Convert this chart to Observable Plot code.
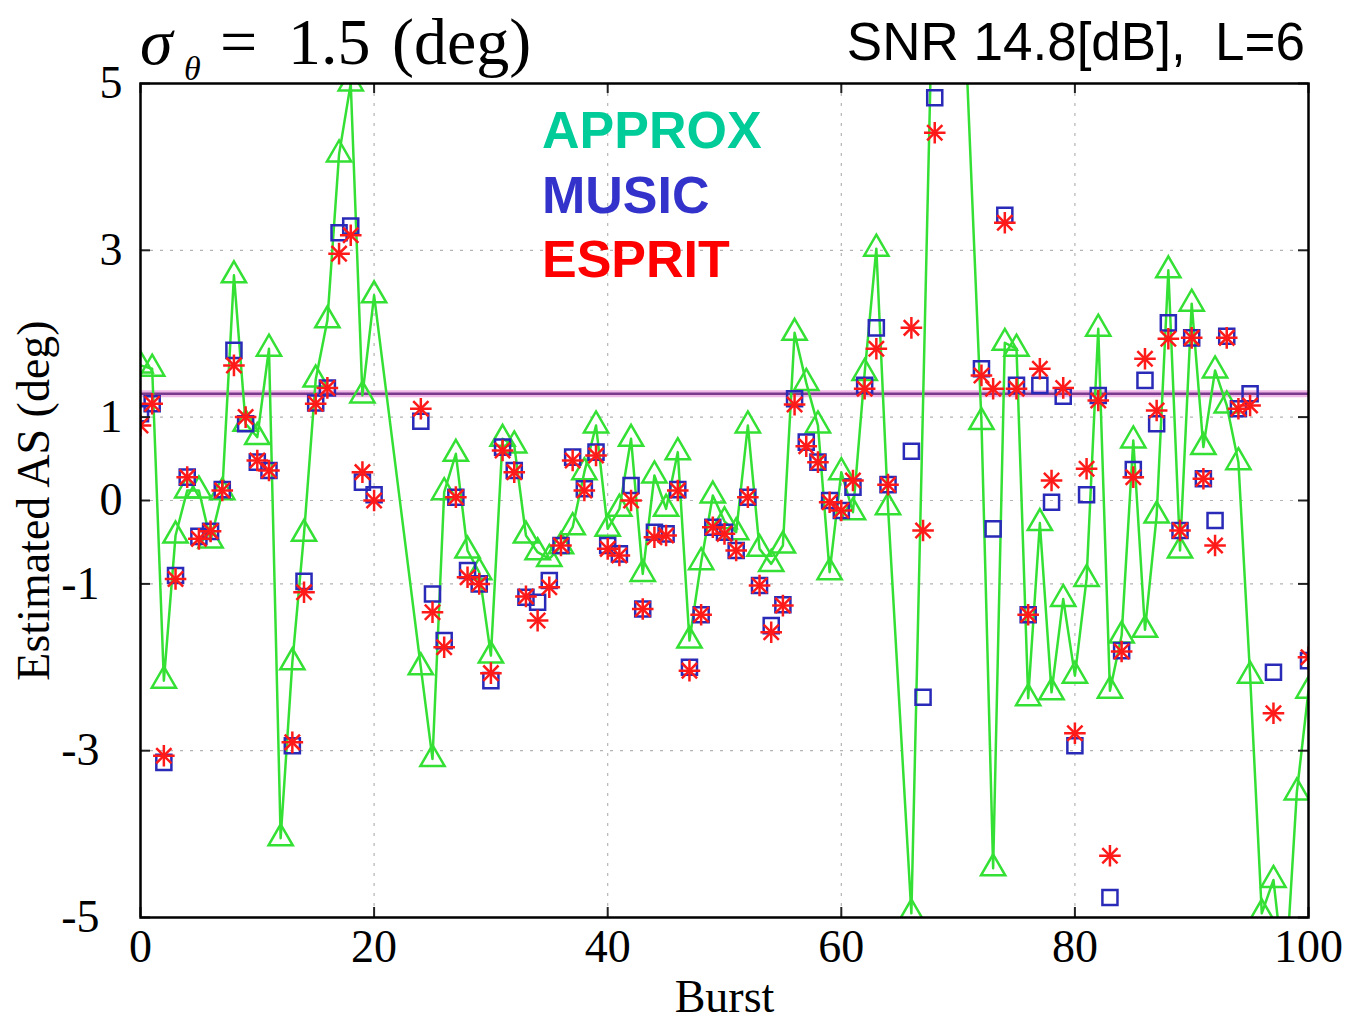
<!DOCTYPE html>
<html><head><meta charset="utf-8">
<script src="https://cdn.jsdelivr.net/npm/d3@7"></script>
<script src="https://cdn.jsdelivr.net/npm/@observablehq/plot@0.6"></script>
<style>
body{margin:0;background:#fff;}
#wrap{position:relative;width:1355px;height:1020px;overflow:hidden;}
#overlay{position:absolute;left:0;top:0;pointer-events:none;}
</style></head><body>
<div id="wrap"><div id="chart"></div></div>
<script>
// ---- data ----
const burst = [0,1,2,3,4,5,6,7,8,9,10,11,12,13,14,15,16,17,18,19,20,21,22,23,24,25,26,27,28,29,30,31,32,33,34,35,36,37,38,39,40,41,42,43,44,45,46,47,48,49,50,51,52,53,54,55,56,57,58,59,60,61,62,63,64,65,66,67,68,69,70,71,72,73,74,75,76,77,78,79,80,81,82,83,84,85,86,87,88,89,90,91,92,93,94,95,96,97,98,99,100];
const approx = [1.62,1.58,-2.16,-0.42,0.12,0.12,-0.48,0.1,2.7,0.92,0.76,1.82,-4.05,-1.94,-0.4,1.45,2.16,4.15,5.0,1.26,2.46,null,null,null,-2.0,-3.1,0.1,0.56,-0.6,-0.86,-1.86,0.74,0.66,-0.42,-0.62,-0.7,-0.55,-0.32,0.34,0.9,-0.34,-0.1,0.74,-0.88,0.3,-0.1,0.58,-1.68,-0.74,0.06,-0.25,-0.38,0.9,-0.58,-0.76,-0.54,2.01,1.41,0.9,-0.86,0.34,-0.14,1.53,3.02,-0.08,null,-4.95,null,7.3,8.5,7.7,null,0.94,-4.41,1.89,1.82,-2.37,-0.27,-2.3,-1.18,-2.1,-0.94,2.06,-2.28,-1.62,0.72,-1.55,-0.18,2.76,-0.6,2.36,0.64,1.56,1.14,0.46,-2.1,-4.95,-4.55,-5.8,-3.5,-2.28];
const music = [1.04,1.16,-3.14,-0.9,0.28,-0.43,-0.37,0.13,1.8,0.92,0.46,0.36,null,-2.94,-0.97,1.17,1.35,3.21,3.29,0.22,0.07,null,null,null,0.95,-1.12,-1.68,0.04,-0.84,-1.0,-2.16,0.64,0.36,-1.16,-1.22,-0.96,-0.54,0.52,0.14,0.58,-0.54,-0.64,0.18,-1.3,-0.38,-0.4,0.13,-2.0,-1.37,-0.32,-0.38,-0.6,0.04,-1.02,-1.5,-1.25,1.22,0.7,0.46,0.0,-0.12,0.16,1.38,2.07,0.19,null,0.59,-2.36,4.83,null,null,null,1.58,-0.34,3.42,1.38,-1.37,1.38,-0.02,1.25,-2.94,0.07,1.26,-4.76,-1.8,0.37,1.44,0.92,2.13,-0.36,1.95,0.26,-0.24,1.97,1.1,1.28,null,-2.06,null,null,-1.92];
const esprit = [0.9,1.16,-3.06,-0.94,0.28,-0.46,-0.37,0.12,1.62,1.0,0.48,0.36,null,-2.9,-1.1,1.16,1.35,2.96,3.18,0.34,0.0,null,null,null,1.1,-1.34,-1.76,0.04,-0.92,-1.0,-2.07,0.6,0.34,-1.15,-1.44,-1.04,-0.54,0.48,0.12,0.54,-0.58,-0.66,0.0,-1.3,-0.44,-0.42,0.12,-2.04,-1.37,-0.32,-0.4,-0.6,0.04,-1.02,-1.58,-1.26,1.15,0.65,0.46,-0.02,-0.12,0.24,1.34,1.82,0.19,null,2.07,-0.36,4.41,null,null,null,1.5,1.34,3.33,1.34,-1.37,1.58,0.24,1.35,-2.79,0.38,1.2,-4.26,-1.81,0.28,1.7,1.08,1.94,-0.36,1.95,0.26,-0.54,1.95,1.1,1.14,null,-2.55,null,null,-1.88];
const refLevel = [1.28];
const yTicks = [5,3,1,0,-1,-3,-5];
const yGrid = [3,1,0,-1,-3];
const xTicks = [0,20,40,60,80,100];
const xGrid = [20,40,60,80];
const legendLabels = ["APPROX","MUSIC","ESPRIT"];
const legendColors = ["#00cc99","#3333cc","#ff0000"];
const titleSNR = "SNR 14.8[dB],  L=6";

// ---- tables ----
const rows = burst.map((b,i)=>({burst:b, approx:approx[i], music:music[i], esprit:esprit[i]}));
const approxRows = rows.filter(d=>d.approx!=null);
const musicRows = rows.filter(d=>d.music!=null);
const espritRows = rows.filter(d=>d.esprit!=null);

const W=1355, H=1020, ML=140, MR=47, MT=83, MB=103;
const fw = W-ML-MR, fh = H-MT-MB;
const green="#35e035", blue="#2a2ab8", red="#ff1a1a";

const chart = Plot.plot({
  width:W, height:H, marginLeft:ML, marginRight:MR, marginTop:MT, marginBottom:MB,
  style:{fontFamily:"'Liberation Serif','Times New Roman',serif", background:"#fff", color:"#000"},
  x:{domain:[0,100]},
  y:{domain:[-5,5]},
  marks:[
    Plot.ruleY(yGrid,{stroke:"#b4b4b4", strokeDasharray:"3,7", strokeWidth:1.2}),
    Plot.ruleX(xGrid,{stroke:"#b4b4b4", strokeDasharray:"3,7", strokeWidth:1.2}),
    Plot.ruleY(refLevel,{stroke:"#f0b8e6", strokeWidth:7}),
    Plot.ruleY(refLevel,{stroke:"#7a3a8e", strokeWidth:2.5}),
    Plot.line(approxRows,{x:"burst", y:"approx", stroke:green, strokeWidth:2.5, clip:true}),
    Plot.dot(approxRows,{x:"burst", y:"approx", symbol:"triangle", r:9, stroke:green, strokeWidth:2.5, fill:"none", clip:true}),
    Plot.dot(musicRows,{x:"burst", y:"music", symbol:"square", r:8.5, stroke:blue, strokeWidth:2.5, fill:"none", clip:true}),
    Plot.dot(espritRows,{x:"burst", y:"esprit", symbol:"plus", r:7, stroke:red, strokeWidth:2.5, clip:true}),
    Plot.dot(espritRows,{x:"burst", y:"esprit", symbol:"times", r:7, stroke:red, strokeWidth:2.5, clip:true}),
    // inward ticks
    Plot.ruleY(yTicks,{insetRight:fw-10, stroke:"#222", strokeWidth:2}),
    Plot.ruleY(yTicks,{insetLeft:fw-10, stroke:"#222", strokeWidth:2}),
    Plot.ruleX(xTicks,{insetBottom:fh-10, stroke:"#222", strokeWidth:2}),
    Plot.ruleX(xTicks,{insetTop:fh-10, stroke:"#222", strokeWidth:2}),
    Plot.frame({stroke:"#000", strokeWidth:2.5}),
    Plot.axisY(yTicks,{tickSize:0, tickPadding:18, fontSize:46,
      tickFormat:d=>d<0?"-"+(-d)+"\u2002":String(d),
      label:"Estimated AS (deg)", labelAnchor:"center", labelOffset:124, labelArrow:false}),
    Plot.axisX(xTicks,{tickSize:0, tickPadding:12, fontSize:46,
      label:"Burst", labelAnchor:"center", labelOffset:94, labelArrow:false})
  ]
});
document.getElementById("chart").appendChild(chart);

// ---- title, header and in-plot legend texts ----
const ov = d3.select("#wrap").append("svg").attr("id","overlay").attr("width",W).attr("height",H);
const serif = "'Liberation Serif','Times New Roman',serif";
const sans = "'Liberation Sans',Arial,sans-serif";
ov.append("text").attr("x",140).attr("y",64).attr("font-family",serif).attr("font-style","italic").attr("font-size",66).text("σ");
ov.append("text").attr("x",184).attr("y",80).attr("font-family",serif).attr("font-style","italic").attr("font-size",34).text("θ");
ov.append("text").attr("x",220).attr("y",64).attr("font-family",serif).attr("font-size",66).text("=");
ov.append("text").attr("x",288).attr("y",64).attr("font-family",serif).attr("font-size",66).text("1.5");
ov.append("text").attr("x",392).attr("y",64).attr("font-family",serif).attr("font-size",66).text("(deg)");
ov.append("text").attr("x",1305).attr("y",60).attr("text-anchor","end").attr("font-family",sans).attr("font-size",53)
  .style("white-space","pre").text(titleSNR);
legendLabels.forEach((t,i)=>{
  ov.append("text").attr("x",542).attr("y",148+i*64.5).attr("font-family",sans).attr("font-weight","bold")
    .attr("font-size",52).attr("fill",legendColors[i]).text(t);
});
</script>
</body></html>
